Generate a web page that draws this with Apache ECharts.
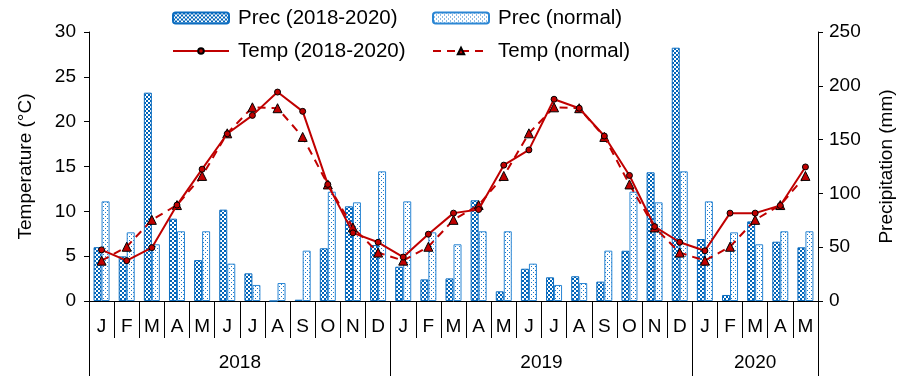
<!DOCTYPE html>
<html>
<head>
<meta charset="utf-8">
<script src="https://cdn.jsdelivr.net/npm/echarts@6/dist/echarts.min.js"></script>
<style>
html,body{margin:0;padding:0;background:#fff;}
#chart{width:908px;height:376px;}
</style>
</head>
<body>
<div id="chart"></div>
<script>
var months = ['J','F','M','A','M','J','J','A','S','O','N','D','J','F','M','A','M','J','J','A','S','O','N','D','J','F','M','A','M'];
var years = ['2018','2019','2020'];
var yearBounds = [0, 12, 24, 29];

var precActual = [50, 41.5, 193.6, 76.5, 38, 84.9, 25.7, 0, 1.2, 49, 88, 52,
                  31.9, 20.1, 21, 93.6, 9, 30, 22, 23, 18, 46.7, 119.6, 235.4,
                  57.6, 5.6, 74, 55.1, 49.9];
var precNormal = [92.6, 63.8, 52.7, 64.8, 64.8, 34.7, 14.9, 16.7, 46.8, 101.6, 91.7, 120.5,
                  92.6, 63.8, 52.7, 64.8, 64.8, 34.7, 14.9, 16.7, 46.8, 101.6, 91.7, 120.5,
                  92.6, 63.8, 52.7, 64.8, 64.8];
var tempActual = [5.7, 4.5, 5.95, 10.7, 14.7, 18.65, 20.7, 23.3, 21.15, 13.0, 7.6, 6.55,
                  4.9, 7.45, 9.8, 10.2, 15.15, 16.85, 22.5, 21.5, 18.4, 14.0, 8.3, 6.55,
                  5.6, 9.8, 9.8, 10.65, 14.95];
var tempNormal = [4.5, 6.05, 9.05, 10.7, 13.95, 18.7, 21.6, 21.5, 18.3, 13.0, 8.2, 5.4,
                  4.5, 6.05, 9.05, 10.7, 13.95, 18.7, 21.6, 21.5, 18.3, 13.0, 8.2, 5.4,
                  4.5, 6.05, 9.05, 10.7, 13.95];

function makeChecker(){
  var c = document.createElement('canvas'); c.width = 4; c.height = 4;
  var g = c.getContext('2d');
  g.fillStyle = '#0064b8'; g.fillRect(0,0,4,4);
  g.fillStyle = '#ffffff'; g.fillRect(0,0,2,2); g.fillRect(2,2,2,2);
  return c;
}
function makeDots(){
  var c = document.createElement('canvas'); c.width = 4; c.height = 4;
  var g = c.getContext('2d');
  g.fillStyle = '#ffffff'; g.fillRect(0,0,4,4);
  g.fillStyle = '#1b78c8'; g.fillRect(1,0,1,1); g.fillRect(3,2,1,1);
  return c;
}

var FONT = 'Liberation Sans, Arial, Helvetica, sans-serif';
var chart = echarts.init(document.getElementById('chart'), null, {renderer:'canvas'});

function legendAt(name, left, top, w, h){
  return {
    data: [name], left: left, top: top, orient: 'horizontal',
    itemWidth: w, itemHeight: h, selectedMode: false, padding: 0,
    textStyle: {fontFamily: FONT, fontSize: 20.5, color: '#000', lineHeight: 22, padding: [0,0,0,4]}
  };
}

var option = {
  animation: false,
  backgroundColor: '#fff',
  legend: [
    legendAt('Prec (2018-2020)', 172, 7, 56, 11),
    legendAt('Prec (normal)', 432, 7, 56, 11),
    legendAt('Temp (2018-2020)', 172, 40, 56, 7),
    legendAt('Temp (normal)', 432, 40, 56, 8)
  ],
  grid: {left: 89, right: 90, top: 32, bottom: 75, containLabel: false},
  xAxis: [{
    type: 'category', data: months, position: 'bottom',
    axisLine: {show: true, lineStyle: {color: '#000', width: 1}},
    axisTick: {show: true, interval: 0, length: 37, lineStyle: {color: '#000', width: 1}},
    axisLabel: {interval: 0, margin: 16, fontFamily: FONT, fontSize: 19, color: '#000'},
    splitLine: {show: false}
  }, {
    type: 'value', min: 0, max: 29, position: 'bottom',
    axisLine: {show: false},
    splitLine: {show: false},
    axisTick: {show: true, length: 75, customValues: yearBounds, lineStyle: {color: '#000', width: 1}},
    axisLabel: {
      show: true, margin: 52, fontFamily: FONT, fontSize: 19, color: '#000',
      customValues: [ (yearBounds[0]+yearBounds[1])/2, (yearBounds[1]+yearBounds[2])/2, (yearBounds[2]+yearBounds[3])/2 ],
      formatter: function(v){
        for (var i = 0; i < years.length; i++) {
          if (v > yearBounds[i] && v < yearBounds[i+1]) return years[i];
        }
        return '';
      }
    }
  }],
  yAxis: [{
    type: 'value', min: 0, max: 30, interval: 5, position: 'left',
    name: 'Temperature (°C)', nameLocation: 'middle', nameGap: 54, nameRotate: 90,
    nameTextStyle: {fontFamily: FONT, fontSize: 19, color: '#000'},
    axisLine: {show: true, lineStyle: {color: '#000', width: 1}},
    axisTick: {show: true, length: 5, lineStyle: {color: '#000'}},
    axisLabel: {margin: 13, fontFamily: FONT, fontSize: 19, color: '#000'},
    splitLine: {show: false}
  }, {
    type: 'value', min: 0, max: 250, interval: 50, position: 'right',
    name: 'Precipitation (mm)', nameLocation: 'middle', nameGap: 59, nameRotate: 90,
    nameTextStyle: {fontFamily: FONT, fontSize: 19, color: '#000'},
    axisLine: {show: true, lineStyle: {color: '#000', width: 1}},
    axisTick: {show: true, length: 5, lineStyle: {color: '#000'}},
    axisLabel: {margin: 11, fontFamily: FONT, fontSize: 19, color: '#000'},
    splitLine: {show: false}
  }],
  series: [{
    name: 'Prec (2018-2020)', type: 'bar', xAxisIndex: 0, yAxisIndex: 1, data: precActual,
    barWidth: 8, barGap: '0%', z: 2,
    itemStyle: {color: {image: makeChecker(), repeat: 'repeat'}, borderColor: '#0a6cc0', borderWidth: 1}
  }, {
    name: 'Prec (normal)', type: 'bar', xAxisIndex: 0, yAxisIndex: 1, data: precNormal,
    barWidth: 8, barGap: '0%', z: 2,
    itemStyle: {color: {image: makeDots(), repeat: 'repeat'}, borderColor: '#2a86d4', borderWidth: 1}
  }, {
    name: 'Temp (2018-2020)', type: 'line', xAxisIndex: 0, yAxisIndex: 0, data: tempActual,
    symbol: 'circle', symbolSize: 6, z: 5,
    lineStyle: {color: '#c00000', width: 2},
    itemStyle: {color: '#c00000', borderColor: '#000', borderWidth: 1}
  }, {
    name: 'Temp (normal)', type: 'line', xAxisIndex: 0, yAxisIndex: 0, data: tempNormal,
    symbol: 'triangle', symbolSize: 9, z: 4,
    lineStyle: {color: '#c00000', width: 2, type: [8, 6]},
    itemStyle: {color: '#c00000', borderColor: '#000', borderWidth: 1}
  }]
};
chart.setOption(option);
</script>
</body>
</html>
